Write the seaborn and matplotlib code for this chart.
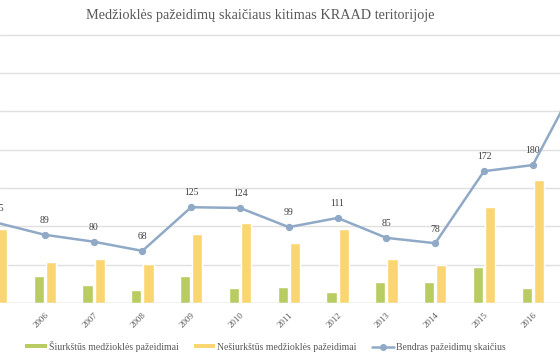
import numpy as np
import pandas as pd
import matplotlib
matplotlib.use("Agg")
import matplotlib.pyplot as plt
from matplotlib.lines import Line2D
from matplotlib.patches import Patch
import seaborn as sns

# data (2005 and 2017 are cut at the edges)
years = ['2005', '2006', '2007', '2008', '2009', '2010', '2011', '2012',
         '2013', '2014', '2015', '2016', '2017']
siurkstus = [8, 35, 23, 17, 35, 20, 21, 14, 28, 28, 47, 19, 35]
nesiurkstus = [97, 54, 57, 51, 90, 104, 78, 97, 57, 50, 125, 161, 265]
bendras = [105, 89, 80, 68, 125, 124, 99, 111, 85, 78, 172, 180, 300]

green = '#b8cc62'
yellow = '#f9d672'
blue = '#8fa9c6'

df = pd.DataFrame({'year': years * 2,
                   'value': siurkstus + nesiurkstus,
                   'type': ['Šiurkštūs medžioklės pažeidimai'] * len(years)
                   + ['Nešiurkštūs medžioklės pažeidimai'] * len(years)})

sns.set_style('white')
plt.rcParams['font.family'] = ['Liberation Serif', 'DejaVu Serif']

fig = plt.figure(figsize=(5.6, 3.6), dpi=100)
ax = fig.add_axes([0, 1 - 303 / 360, 1, (303 - 34) / 360])

sns.barplot(data=df, x='year', y='value', hue='type', order=years,
            palette=[green, yellow], width=0.5, gap=0.18, ax=ax,
            legend=False, saturation=1)
sns.lineplot(x=np.arange(len(years)), y=bendras, ax=ax, color=blue,
             linewidth=1.8, marker='o', markersize=4.5,
             markeredgecolor=blue, zorder=5)

# 2017 label lies outside the cropped picture, so it is left out
for i, v in enumerate(bendras[:-1]):
    ax.annotate(str(v), (i, v), xytext=(0, 7), textcoords='offset points',
                ha='center', va='bottom', fontsize=7, color='#404040',
                annotation_clip=False)

ax.set_xlim(4 / 48.8, 564 / 48.8)
ax.set_ylim(0, 351)
ax.set_yticks(np.arange(0, 351, 50))
ax.set_yticklabels([])
ax.yaxis.grid(True, color='#e0e0e0', linewidth=1)
ax.set_axisbelow(True)
for s in ax.spines.values():
    s.set_visible(False)
ax.axhline(0, color='#d9d9d9', linewidth=1, zorder=1)
ax.tick_params(axis='both', length=0)
ax.tick_params(axis='x', pad=6)
ax.set_xlabel('')
ax.set_ylabel('')
plt.setp(ax.get_xticklabels(), rotation=45, ha='right', va='top',
         rotation_mode='anchor', fontsize=6.5, color='#595959')

fig.text(0.464, 0.957, 'Medžioklės pažeidimų skaičiaus kitimas KRAAD teritorijoje',
         ha='center', va='center', fontsize=10.3, color='#595959')

handles = [Patch(facecolor=green, edgecolor='none'),
           Patch(facecolor=yellow, edgecolor='none'),
           Line2D([0], [0], color=blue, marker='o', markersize=4, linewidth=1.8)]
labels = ['Šiurkštūs medžioklės pažeidimai',
          'Nešiurkštūs medžioklės pažeidimai',
          'Bendras pažeidimų skaičius']
fig.legend(handles, labels, loc='center', bbox_to_anchor=(0.474, 1 - 346 / 360),
           ncol=3, frameon=False, fontsize=7, handlelength=2.2,
           handleheight=0.4, columnspacing=1.6, handletextpad=0.2,
           labelcolor='#595959')

fig.savefig('out.png', dpi=100)
